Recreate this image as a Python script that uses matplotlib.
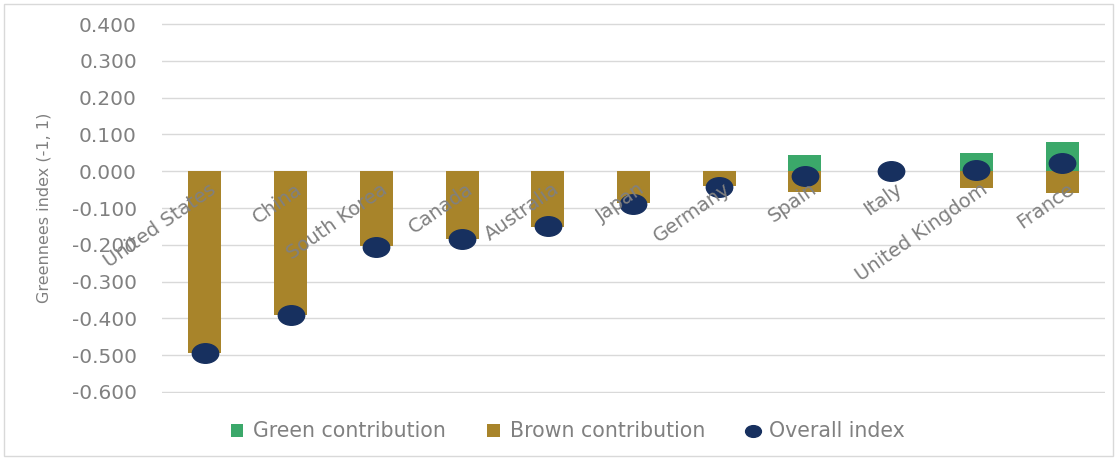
import matplotlib.pyplot as plt
import numpy as np
from matplotlib.markers import MarkerStyle
from matplotlib.path import Path
from matplotlib.transforms import Affine2D
from matplotlib.patches import Rectangle

countries = ['United States', 'China', 'South Korea', 'Canada', 'Australia', 'Japan',
             'Germany', 'Spain', 'Italy', 'United Kingdom', 'France']
green = [0.0, 0.0, 0.0, 0.0, 0.0, 0.0, 0.0, 0.045, 0.0, 0.049, 0.079]
brown = [-0.495, -0.390, -0.204, -0.183, -0.151, -0.086, -0.040, -0.056, 0.0, -0.046, -0.060]
overall = [-0.493, -0.390, -0.206, -0.185, -0.150, -0.088, -0.043, -0.012, 0.0, 0.004, 0.022]
yticks = [0.4, 0.3, 0.2, 0.1, 0.0, -0.1, -0.2, -0.3, -0.4, -0.5, -0.6]

c_green = '#3BA86A'
c_brown = '#A8842A'
c_navy = '#17305F'
c_text = '#808080'

plt.rcParams['font.family'] = ['DejaVu Sans']

fig = plt.figure(figsize=(11.2, 4.59), dpi=100)
ax = fig.add_axes([0.1446, 0.1438, 0.842, 0.806])

x = np.arange(len(countries))
h_green = ax.bar(x, green, width=0.385, color=c_green, label='Green contribution', zorder=2)
h_brown = ax.bar(x, brown, width=0.385, color=c_brown, label='Brown contribution', zorder=2)

# slightly wide ellipse marker like the original
ell = Path.unit_circle().transformed(Affine2D().scale(1.35, 1.0))
h_dot, = ax.plot(x, overall, linestyle='none', marker=MarkerStyle(ell), markersize=19,
                 color=c_navy, label='Overall index', zorder=3)

ax.set_xlim(-0.5, len(countries) - 0.5)
ax.set_ylim(-0.603, 0.403)
ax.set_yticks(yticks)
ax.set_yticklabels([f'{v:.3f}' for v in yticks])
ax.tick_params(axis='y', length=0, pad=18, labelsize=14.5, labelcolor=c_text)
ax.set_xticks([])
ax.yaxis.grid(True, color='#D9D9D9', linewidth=1)
ax.set_axisbelow(True)
for s in ax.spines.values():
    s.set_visible(False)

for i, name in enumerate(countries):
    ax.annotate(name, xy=(i, 0), xytext=(3, -6), textcoords='offset points',
                rotation=35, rotation_mode='anchor', ha='right', va='top',
                fontsize=14, color=c_text, zorder=4)

ax.set_ylabel('Greennees index (-1, 1)', fontsize=11.5, color=c_text)
ax.yaxis.set_label_coords(-0.117, 0.5)

fig.legend(handles=[h_green, h_brown, h_dot], loc='center', bbox_to_anchor=(0.507, 0.06),
           ncol=3, frameon=False, fontsize=14.8, labelcolor=c_text, handlelength=0.6,
           handleheight=0.6, handletextpad=0.5, columnspacing=2.0, markerscale=0.6)

fig.patches.append(Rectangle((0.004, 0.006), 0.99, 0.985, transform=fig.transFigure,
                             fill=False, edgecolor='#D9D9D9', linewidth=1))

fig.savefig('out.png', dpi=100)
